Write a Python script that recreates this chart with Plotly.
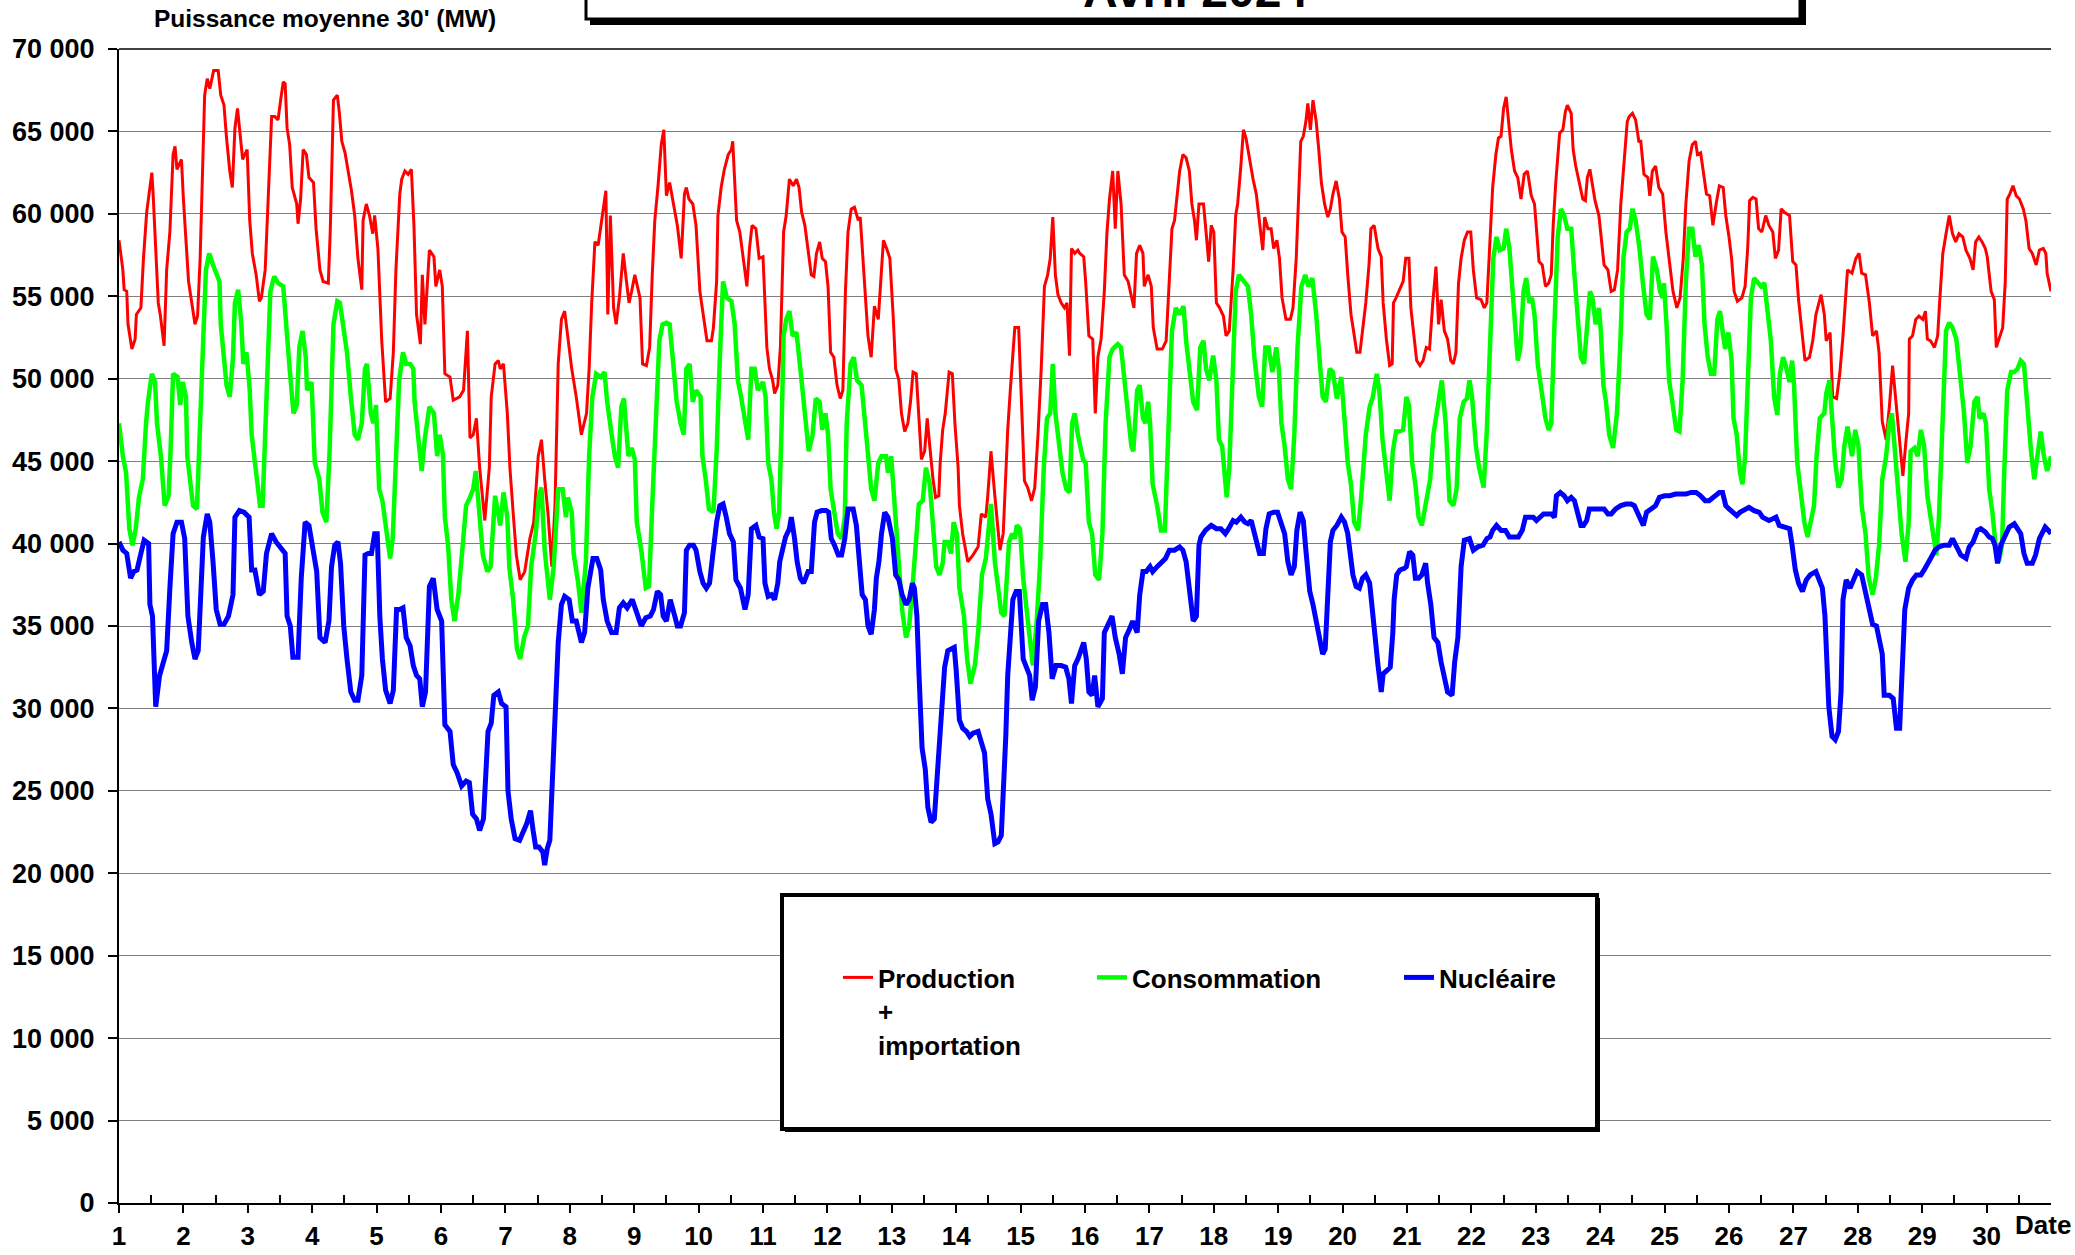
import plotly.graph_objects as go

# Puissances moyennes 30' (jour du mois, MW)
production = [
    (1.00, 58400), (1.06, 56600), (1.08, 55400), (1.12, 55300), (1.14, 53300), (1.20, 51800), (1.25, 52400),
    (1.27, 53900), (1.34, 54300), (1.38, 57300), (1.43, 60100), (1.47, 61200), (1.51, 62500), (1.53, 61200),
    (1.58, 56600), (1.61, 54600), (1.64, 53900), (1.70, 52000), (1.74, 56600), (1.79, 58900), (1.84, 63600),
    (1.87, 64100), (1.90, 62700), (1.97, 63300), (2.00, 60900), (2.08, 55900), (2.18, 53300), (2.22, 53800),
    (2.26, 57300), (2.31, 63900), (2.33, 67200), (2.37, 68200), (2.41, 67600), (2.47, 68700), (2.54, 68700),
    (2.58, 67200), (2.63, 66600), (2.67, 64600), (2.72, 62600), (2.76, 61600), (2.80, 65200), (2.84, 66400),
    (2.88, 64600), (2.92, 63300), (2.99, 63900), (3.03, 59600), (3.07, 57600), (3.13, 56300), (3.18, 54700),
    (3.21, 54900), (3.27, 56600), (3.32, 61200), (3.37, 65900), (3.42, 65900), (3.47, 65700), (3.51, 66900),
    (3.55, 68000), (3.58, 67900), (3.61, 65200), (3.65, 64200), (3.69, 61600), (3.76, 60600), (3.78, 59400),
    (3.82, 60900), (3.86, 63900), (3.91, 63600), (3.95, 62200), (4.02, 61900), (4.06, 59100), (4.12, 56600),
    (4.17, 55900), (4.25, 55800), (4.28, 58900), (4.33, 66900), (4.39, 67200), (4.42, 66200), (4.46, 64400),
    (4.51, 63700), (4.56, 62600), (4.61, 61400), (4.66, 59900), (4.71, 57300), (4.77, 55400), (4.79, 59600),
    (4.84, 60600), (4.89, 59900), (4.94, 58800), (4.97, 59900), (5.02, 57900), (5.08, 52300), (5.14, 48600),
    (5.21, 48800), (5.26, 51600), (5.30, 56600), (5.36, 61200), (5.39, 62100), (5.44, 62600), (5.49, 62400),
    (5.54, 62700), (5.58, 59300), (5.62, 53900), (5.68, 52100), (5.71, 56300), (5.75, 53300), (5.82, 57800),
    (5.89, 57400), (5.92, 55600), (5.98, 56600), (6.02, 55600), (6.06, 50300), (6.14, 50100), (6.19, 48700),
    (6.29, 48900), (6.35, 49300), (6.41, 52900), (6.45, 46400), (6.50, 46600), (6.55, 47600), (6.60, 44600),
    (6.68, 41400), (6.75, 44600), (6.78, 48900), (6.84, 50900), (6.89, 51100), (6.92, 50600), (6.97, 50900),
    (7.03, 47900), (7.07, 44600), (7.12, 41900), (7.17, 39300), (7.23, 37800), (7.30, 38300), (7.38, 40300),
    (7.44, 41300), (7.51, 45300), (7.56, 46300), (7.61, 43900), (7.66, 41900), (7.72, 38600), (7.77, 42300),
    (7.82, 50900), (7.87, 53600), (7.92, 54100), (7.97, 52400), (8.03, 50600), (8.10, 48900), (8.18, 46600),
    (8.26, 47900), (8.30, 50600), (8.34, 54600), (8.39, 58300), (8.44, 58100), (8.49, 59600), (8.56, 61400),
    (8.59, 53900), (8.63, 59900), (8.68, 54300), (8.72, 53300), (8.77, 54900), (8.83, 57600), (8.88, 55900),
    (8.92, 54600), (8.96, 55300), (9.01, 56300), (9.09, 54900), (9.13, 50900), (9.19, 50800), (9.24, 51900),
    (9.28, 56300), (9.32, 59600), (9.37, 61700), (9.42, 64200), (9.46, 65100), (9.50, 61100), (9.55, 61900),
    (9.60, 60900), (9.67, 59300), (9.73, 57300), (9.78, 61200), (9.81, 61600), (9.85, 60900), (9.91, 60600),
    (9.96, 59300), (10.02, 55300), (10.08, 53600), (10.13, 52300), (10.20, 52300), (10.23, 53100), (10.28, 55900),
    (10.30, 59900), (10.35, 61600), (10.40, 62700), (10.46, 63600), (10.51, 63900), (10.53, 64400), (10.59, 59600),
    (10.64, 58900), (10.69, 57300), (10.75, 55600), (10.79, 57900), (10.83, 59300), (10.89, 59100), (10.94, 57300),
    (11.00, 57400), (11.03, 54900), (11.06, 51900), (11.10, 50600), (11.15, 49900), (11.18, 49100), (11.23, 49600),
    (11.27, 51900), (11.32, 58900), (11.36, 59900), (11.41, 62100), (11.47, 61700), (11.52, 62100), (11.56, 61600),
    (11.60, 60100), (11.65, 59300), (11.70, 57900), (11.75, 56300), (11.79, 56200), (11.83, 57600), (11.88, 58300),
    (11.92, 57300), (11.97, 57100), (12.01, 55600), (12.05, 51600), (12.10, 51300), (12.15, 49600), (12.20, 48800),
    (12.24, 49300), (12.28, 55300), (12.32, 58900), (12.37, 60300), (12.42, 60400), (12.48, 59600), (12.51, 59800),
    (12.55, 57300), (12.59, 54600), (12.63, 52600), (12.68, 51300), (12.73, 54400), (12.79, 53600), (12.82, 55300),
    (12.87, 58400), (12.92, 57900), (12.97, 57300), (13.02, 53900), (13.06, 50600), (13.11, 49900), (13.15, 47900),
    (13.20, 46800), (13.25, 47300), (13.29, 48600), (13.33, 50400), (13.38, 50300), (13.43, 47300), (13.46, 45100),
    (13.51, 45600), (13.55, 47600), (13.59, 45900), (13.64, 43900), (13.68, 42800), (13.73, 42900), (13.75, 44800),
    (13.79, 46900), (13.83, 47900), (13.89, 50400), (13.94, 50300), (13.98, 47300), (14.03, 44600), (14.05, 42300),
    (14.10, 40600), (14.18, 38900), (14.26, 39300), (14.34, 39800), (14.39, 41800), (14.46, 41600), (14.49, 42900),
    (14.54, 45600), (14.60, 42900), (14.65, 40600), (14.68, 39600), (14.73, 40600), (14.77, 44300), (14.80, 46900),
    (14.84, 49300), (14.88, 51900), (14.91, 53100), (14.97, 53100), (15.01, 49300), (15.06, 43800), (15.11, 43400),
    (15.17, 42600), (15.22, 43400), (15.27, 46600), (15.32, 50600), (15.37, 55600), (15.42, 56300), (15.46, 57300),
    (15.50, 59800), (15.54, 56300), (15.58, 55100), (15.63, 54600), (15.68, 54300), (15.72, 54600), (15.76, 51400),
    (15.79, 57900), (15.84, 57600), (15.89, 57800), (15.92, 57600), (15.98, 57400), (16.01, 55900), (16.06, 52600),
    (16.12, 52400), (16.16, 47900), (16.20, 51300), (16.25, 52400), (16.30, 55300), (16.34, 58800), (16.38, 60900),
    (16.43, 62600), (16.47, 59100), (16.51, 62600), (16.56, 60600), (16.61, 56300), (16.67, 55900), (16.72, 55100),
    (16.76, 54300), (16.80, 57600), (16.85, 58100), (16.90, 57600), (16.92, 55600), (16.98, 56300), (17.03, 55600),
    (17.06, 53100), (17.12, 51800), (17.20, 51800), (17.26, 52300), (17.30, 55300), (17.35, 59100), (17.39, 59600),
    (17.43, 61200), (17.47, 62600), (17.52, 63600), (17.57, 63400), (17.62, 62600), (17.66, 60600), (17.70, 59600),
    (17.73, 58400), (17.77, 60600), (17.84, 60600), (17.88, 58900), (17.92, 57100), (17.96, 59300), (18.00, 58900),
    (18.04, 54600), (18.09, 54300), (18.15, 53800), (18.19, 52600), (18.24, 52900), (18.30, 56600), (18.34, 59900),
    (18.37, 60600), (18.42, 62900), (18.46, 65100), (18.50, 64600), (18.56, 63100), (18.61, 62100), (18.66, 61200),
    (18.71, 59600), (18.76, 57800), (18.79, 59800), (18.84, 59100), (18.89, 59100), (18.93, 57900), (18.98, 58400),
    (19.02, 57300), (19.06, 54900), (19.12, 53600), (19.19, 53600), (19.23, 54300), (19.28, 57300), (19.32, 61200),
    (19.35, 64400), (19.39, 64700), (19.43, 65600), (19.46, 66700), (19.50, 65100), (19.54, 66900), (19.59, 65600),
    (19.63, 63900), (19.67, 61900), (19.72, 60600), (19.77, 59800), (19.81, 60300), (19.85, 61200), (19.90, 62000),
    (19.95, 60900), (19.99, 58900), (20.04, 58600), (20.08, 56300), (20.13, 53900), (20.17, 52900), (20.22, 51600),
    (20.27, 51600), (20.31, 52900), (20.36, 54600), (20.41, 56900), (20.44, 59100), (20.49, 59300), (20.55, 57900),
    (20.60, 57400), (20.63, 54600), (20.68, 52400), (20.73, 50800), (20.77, 50900), (20.79, 54600), (20.83, 54900),
    (20.88, 55400), (20.94, 55900), (20.98, 57300), (21.03, 57300), (21.06, 54300), (21.11, 52300), (21.15, 51100),
    (21.20, 50800), (21.25, 51100), (21.30, 51900), (21.35, 51800), (21.40, 54600), (21.45, 56800), (21.49, 53300),
    (21.53, 54800), (21.58, 52900), (21.63, 52400), (21.68, 51100), (21.72, 50900), (21.76, 51600), (21.80, 55800),
    (21.84, 57300), (21.89, 58400), (21.94, 58900), (21.99, 58900), (22.03, 56600), (22.08, 54900), (22.15, 54800),
    (22.20, 54300), (22.24, 54600), (22.28, 57600), (22.33, 61600), (22.38, 63600), (22.42, 64600), (22.46, 64700),
    (22.50, 66400), (22.54, 67100), (22.58, 65600), (22.62, 63900), (22.67, 62600), (22.72, 62200), (22.77, 60900),
    (22.82, 62400), (22.87, 62600), (22.93, 61100), (22.98, 60600), (23.01, 59300), (23.05, 57100), (23.10, 56900),
    (23.15, 55600), (23.20, 55800), (23.24, 56300), (23.27, 59300), (23.31, 61900), (23.37, 64900), (23.42, 65100),
    (23.46, 66200), (23.49, 66600), (23.55, 66100), (23.58, 63900), (23.62, 62900), (23.68, 61900), (23.73, 60900),
    (23.77, 60800), (23.80, 62200), (23.84, 62700), (23.88, 61600), (23.92, 60800), (23.98, 59900), (24.01, 58900),
    (24.06, 56900), (24.12, 56600), (24.17, 55300), (24.22, 55400), (24.27, 56600), (24.32, 60600), (24.37, 63400),
    (24.42, 65600), (24.45, 65900), (24.50, 66100), (24.55, 65700), (24.60, 64400), (24.63, 64400), (24.68, 62400),
    (24.74, 62200), (24.77, 61100), (24.81, 62600), (24.86, 62900), (24.91, 61600), (24.97, 61200), (25.02, 58900),
    (25.08, 56900), (25.13, 55300), (25.19, 54300), (25.24, 54900), (25.29, 57300), (25.33, 60600), (25.38, 63200),
    (25.43, 64200), (25.48, 64400), (25.51, 63600), (25.56, 63700), (25.60, 62600), (25.65, 61200), (25.70, 61100),
    (25.75, 59300), (25.80, 60600), (25.85, 61700), (25.91, 61600), (25.95, 59900), (26.00, 58600), (26.04, 57300),
    (26.08, 55300), (26.13, 54700), (26.20, 54900), (26.25, 55600), (26.29, 57900), (26.32, 60800), (26.37, 61000),
    (26.42, 60900), (26.46, 59100), (26.51, 58900), (26.57, 59900), (26.62, 59300), (26.68, 58900), (26.72, 57300),
    (26.77, 57800), (26.81, 60300), (26.86, 60100), (26.94, 59900), (26.99, 57100), (27.04, 56900), (27.08, 54800),
    (27.13, 52900), (27.18, 51100), (27.25, 51300), (27.30, 52300), (27.35, 53900), (27.43, 55100), (27.48, 53900),
    (27.51, 52300), (27.57, 52800), (27.61, 48900), (27.67, 48800), (27.72, 50300), (27.77, 52600), (27.84, 56600),
    (27.91, 56400), (27.97, 57300), (28.02, 57600), (28.06, 56400), (28.12, 56300), (28.18, 54600), (28.23, 52600),
    (28.29, 52900), (28.33, 51600), (28.38, 47400), (28.44, 46300), (28.49, 48300), (28.54, 50800), (28.60, 48300),
    (28.65, 46300), (28.70, 44100), (28.75, 46300), (28.79, 47900), (28.80, 52400), (28.85, 52600), (28.90, 53600),
    (28.95, 53800), (29.01, 53600), (29.05, 54100), (29.08, 52400), (29.13, 52300), (29.19, 51900), (29.24, 52600),
    (29.27, 54600), (29.32, 57600), (29.37, 58800), (29.42, 59900), (29.47, 58800), (29.52, 58300), (29.57, 58800),
    (29.63, 58600), (29.68, 57800), (29.74, 57300), (29.79, 56600), (29.83, 58300), (29.88, 58600), (29.93, 58300),
    (29.98, 57900), (30.01, 57400), (30.07, 55300), (30.12, 54800), (30.15, 51900), (30.19, 52400), (30.25, 53100),
    (30.29, 55900), (30.32, 60900), (30.36, 61200), (30.41, 61700), (30.46, 61100), (30.51, 60900), (30.57, 60300),
    (30.61, 59600), (30.66, 57900), (30.71, 57600), (30.77, 56900), (30.82, 57800), (30.88, 57900), (30.92, 57600),
    (30.94, 56400), (31.00, 55300),
]

consommation = [
    (1.00, 47300), (1.06, 45300), (1.11, 44300), (1.16, 40900), (1.21, 39900), (1.26, 40900), (1.31, 42800),
    (1.37, 43900), (1.42, 47300), (1.45, 48600), (1.51, 50300), (1.56, 49800), (1.59, 47300), (1.65, 45300),
    (1.71, 42300), (1.77, 42900), (1.80, 45600), (1.84, 50300), (1.91, 50100), (1.95, 48400), (1.99, 49800),
    (2.04, 48900), (2.06, 45300), (2.11, 43900), (2.15, 42300), (2.21, 42100), (2.26, 46600), (2.31, 52600),
    (2.35, 56600), (2.40, 57600), (2.46, 56900), (2.52, 56200), (2.56, 55900), (2.58, 53300), (2.63, 51300),
    (2.67, 49600), (2.72, 48900), (2.77, 51300), (2.80, 54600), (2.85, 55400), (2.90, 53300), (2.93, 50900),
    (2.98, 51600), (3.03, 49300), (3.06, 46600), (3.13, 44300), (3.19, 42300), (3.23, 42300), (3.27, 46600),
    (3.30, 50600), (3.35, 55300), (3.41, 56200), (3.47, 55800), (3.55, 55600), (3.59, 53300), (3.65, 50600),
    (3.71, 47900), (3.76, 48400), (3.80, 51900), (3.85, 52900), (3.90, 51300), (3.92, 49300), (3.99, 49800),
    (4.04, 44900), (4.11, 43900), (4.16, 41900), (4.22, 41300), (4.27, 45600), (4.33, 53300), (4.39, 54700),
    (4.43, 54600), (4.48, 53300), (4.54, 51600), (4.60, 48900), (4.66, 46600), (4.71, 46300), (4.77, 47300),
    (4.82, 50600), (4.85, 50900), (4.91, 47900), (4.95, 47300), (4.99, 48400), (5.04, 43300), (5.09, 42600),
    (5.14, 40900), (5.21, 39100), (5.25, 40300), (5.30, 45300), (5.35, 49900), (5.41, 51600), (5.46, 50900),
    (5.52, 50900), (5.57, 50600), (5.59, 48600), (5.65, 46300), (5.70, 44400), (5.75, 46400), (5.82, 48300),
    (5.89, 47900), (5.94, 45300), (5.98, 46600), (6.03, 45400), (6.06, 41600), (6.11, 39900), (6.16, 36600),
    (6.21, 35300), (6.27, 36900), (6.32, 38900), (6.39, 42300), (6.45, 42800), (6.50, 43300), (6.54, 44400),
    (6.59, 41900), (6.65, 39300), (6.72, 38300), (6.77, 38600), (6.84, 42900), (6.89, 41900), (6.92, 41100),
    (6.97, 43100), (7.03, 41600), (7.06, 38600), (7.12, 36600), (7.18, 33600), (7.23, 33000), (7.29, 34300),
    (7.35, 35000), (7.40, 38600), (7.47, 40600), (7.52, 42900), (7.56, 43400), (7.61, 39600), (7.69, 36600),
    (7.75, 38600), (7.82, 43300), (7.89, 43300), (7.94, 41600), (7.97, 42800), (8.03, 41900), (8.06, 39400),
    (8.13, 37600), (8.18, 35800), (8.25, 38900), (8.30, 45300), (8.35, 48900), (8.41, 50300), (8.48, 50100),
    (8.54, 50400), (8.58, 48600), (8.65, 46600), (8.70, 45300), (8.75, 44600), (8.80, 48300), (8.84, 48800),
    (8.91, 45300), (8.96, 45800), (9.01, 45100), (9.04, 41300), (9.11, 39600), (9.18, 37300), (9.23, 37400),
    (9.28, 42300), (9.34, 48600), (9.39, 52300), (9.44, 53300), (9.50, 53400), (9.55, 53300), (9.60, 51300),
    (9.66, 48600), (9.72, 47300), (9.77, 46600), (9.81, 50600), (9.86, 50900), (9.91, 48600), (9.96, 49300),
    (10.03, 48900), (10.06, 45300), (10.11, 43900), (10.16, 42100), (10.23, 41900), (10.28, 45600), (10.33, 51300),
    (10.38, 55900), (10.44, 54900), (10.51, 54700), (10.56, 53300), (10.61, 49900), (10.66, 48900), (10.72, 47300),
    (10.77, 46300), (10.82, 50600), (10.87, 50600), (10.92, 49300), (11.00, 49800), (11.04, 48900), (11.08, 44900),
    (11.13, 43900), (11.17, 41900), (11.21, 40900), (11.25, 41900), (11.29, 47300), (11.32, 52600), (11.36, 53600),
    (11.41, 54100), (11.46, 52600), (11.52, 52800), (11.58, 50600), (11.65, 47600), (11.71, 45600), (11.77, 46600),
    (11.82, 48800), (11.88, 48600), (11.92, 46900), (11.97, 47900), (12.01, 46600), (12.05, 43300), (12.11, 41900),
    (12.16, 40600), (12.22, 40300), (12.27, 41600), (12.30, 47300), (12.36, 50900), (12.41, 51300), (12.46, 49900),
    (12.53, 49600), (12.58, 47900), (12.61, 46300), (12.68, 43300), (12.73, 42600), (12.79, 44900), (12.84, 45300),
    (12.91, 45300), (12.94, 44300), (12.99, 45300), (13.05, 42300), (13.11, 38600), (13.16, 36000), (13.22, 34300),
    (13.27, 35000), (13.32, 37300), (13.37, 40300), (13.42, 42400), (13.48, 42600), (13.53, 44600), (13.59, 43600),
    (13.63, 41300), (13.69, 38600), (13.74, 38100), (13.79, 38800), (13.82, 40100), (13.87, 40100), (13.92, 39400),
    (13.96, 41300), (14.01, 40600), (14.05, 37300), (14.12, 35600), (14.17, 33000), (14.22, 31500), (14.29, 32600),
    (14.34, 34600), (14.40, 38100), (14.46, 39100), (14.51, 41300), (14.54, 42400), (14.60, 38900), (14.65, 37300),
    (14.70, 35800), (14.75, 35600), (14.79, 37900), (14.82, 40100), (14.87, 40600), (14.91, 40300), (14.94, 41100),
    (14.99, 40900), (15.04, 37900), (15.09, 36300), (15.14, 34600), (15.19, 32600), (15.25, 35300), (15.30, 38600),
    (15.36, 44600), (15.41, 47600), (15.46, 47900), (15.50, 50900), (15.54, 47900), (15.59, 46300), (15.65, 44300),
    (15.71, 43300), (15.76, 43100), (15.80, 47300), (15.84, 47900), (15.89, 46600), (15.97, 45100), (16.01, 44900),
    (16.06, 41300), (16.11, 40600), (16.16, 38100), (16.22, 37800), (16.27, 40600), (16.32, 47300), (16.38, 51300),
    (16.43, 51800), (16.51, 52100), (16.56, 51900), (16.61, 49900), (16.67, 47300), (16.72, 45900), (16.75, 45600),
    (16.81, 49300), (16.85, 49600), (16.90, 47600), (16.94, 47300), (16.98, 48600), (17.01, 47300), (17.05, 43600),
    (17.12, 42300), (17.18, 40800), (17.24, 40800), (17.27, 43900), (17.30, 47300), (17.35, 52900), (17.41, 54300),
    (17.47, 53900), (17.53, 54400), (17.57, 52300), (17.62, 50600), (17.68, 48600), (17.74, 48100), (17.79, 51900),
    (17.84, 52300), (17.88, 50600), (17.93, 49900), (17.99, 51400), (18.04, 49900), (18.08, 46300), (18.13, 45900),
    (18.17, 44300), (18.20, 42800), (18.24, 44600), (18.28, 49300), (18.34, 55300), (18.39, 56300), (18.46, 55900),
    (18.53, 55600), (18.58, 53900), (18.63, 51300), (18.70, 48900), (18.75, 48300), (18.80, 51900), (18.85, 51900),
    (18.91, 50400), (18.97, 51900), (19.01, 50600), (19.05, 47300), (19.10, 45900), (19.15, 43900), (19.20, 43300),
    (19.25, 46600), (19.30, 51900), (19.36, 55600), (19.42, 56300), (19.47, 55600), (19.53, 56100), (19.59, 53900),
    (19.64, 51300), (19.69, 48900), (19.74, 48600), (19.80, 50600), (19.85, 50400), (19.91, 48800), (19.98, 50100),
    (20.03, 47300), (20.08, 44900), (20.13, 43600), (20.18, 41300), (20.24, 40800), (20.29, 42900), (20.36, 46600),
    (20.42, 48300), (20.47, 48900), (20.53, 50300), (20.57, 49300), (20.62, 46300), (20.68, 44300), (20.73, 42600),
    (20.78, 45600), (20.83, 46800), (20.88, 46800), (20.94, 46900), (20.99, 48900), (21.03, 48400), (21.08, 44900),
    (21.13, 43600), (21.18, 41600), (21.23, 41100), (21.30, 42600), (21.36, 43900), (21.41, 46600), (21.46, 47900),
    (21.51, 49300), (21.54, 49900), (21.60, 47300), (21.66, 42600), (21.72, 42300), (21.77, 43300), (21.82, 47600),
    (21.88, 48600), (21.93, 48800), (21.97, 49900), (22.01, 48900), (22.07, 45900), (22.12, 44600), (22.19, 43400),
    (22.24, 46900), (22.29, 51900), (22.34, 57300), (22.39, 58600), (22.44, 57800), (22.50, 57900), (22.54, 59100),
    (22.59, 57900), (22.64, 54900), (22.68, 52600), (22.72, 51100), (22.76, 51900), (22.81, 55300), (22.85, 56100),
    (22.90, 54600), (22.94, 54900), (22.98, 53900), (23.03, 50900), (23.08, 49600), (23.15, 47600), (23.20, 46900),
    (23.24, 47300), (23.29, 53300), (23.34, 58600), (23.39, 60300), (23.44, 59900), (23.49, 59100), (23.55, 59100),
    (23.60, 56300), (23.65, 53600), (23.70, 51300), (23.75, 50900), (23.81, 54300), (23.84, 55300), (23.88, 54900),
    (23.93, 53300), (23.98, 54300), (24.01, 52900), (24.05, 49600), (24.09, 48600), (24.14, 46600), (24.20, 45800),
    (24.26, 47900), (24.31, 51900), (24.36, 57300), (24.41, 58900), (24.46, 59100), (24.50, 60300), (24.55, 59600),
    (24.61, 57900), (24.66, 55900), (24.72, 53900), (24.77, 53600), (24.82, 57400), (24.88, 56600), (24.93, 55300),
    (24.97, 54900), (24.99, 55800), (25.03, 53300), (25.07, 49900), (25.12, 48600), (25.18, 46900), (25.23, 46800),
    (25.28, 49900), (25.33, 55900), (25.38, 59100), (25.43, 59100), (25.48, 57400), (25.53, 58100), (25.58, 56900),
    (25.62, 53300), (25.67, 51300), (25.72, 50300), (25.77, 50300), (25.82, 53600), (25.86, 54100), (25.90, 52900),
    (25.94, 51800), (25.99, 52800), (26.04, 51100), (26.07, 47600), (26.12, 46600), (26.17, 44300), (26.21, 43600),
    (26.25, 45300), (26.30, 51900), (26.34, 54900), (26.39, 56100), (26.44, 55900), (26.50, 55600), (26.55, 55800),
    (26.60, 53900), (26.65, 52300), (26.70, 48900), (26.75, 47800), (26.79, 50300), (26.84, 51300), (26.88, 50800),
    (26.94, 49800), (26.98, 51100), (27.01, 49600), (27.06, 44900), (27.12, 42600), (27.17, 41300), (27.22, 40400),
    (27.27, 41300), (27.32, 42300), (27.36, 45300), (27.41, 47600), (27.48, 47900), (27.51, 49100), (27.56, 49900),
    (27.60, 47300), (27.65, 44900), (27.70, 43400), (27.75, 43900), (27.79, 45900), (27.84, 47100), (27.91, 45300),
    (27.96, 46900), (28.01, 45900), (28.06, 42300), (28.12, 40600), (28.17, 37900), (28.23, 36900), (28.28, 37900),
    (28.33, 39900), (28.38, 43900), (28.44, 45300), (28.49, 47300), (28.53, 47900), (28.58, 45600), (28.63, 43300),
    (28.68, 40600), (28.74, 38900), (28.79, 41300), (28.82, 45600), (28.88, 45800), (28.93, 45300), (28.98, 46900),
    (29.03, 45900), (29.08, 42900), (29.13, 41600), (29.19, 39800), (29.22, 39300), (29.26, 41600), (29.32, 47300),
    (29.37, 52900), (29.42, 53400), (29.47, 53100), (29.53, 52400), (29.58, 50600), (29.65, 47900), (29.70, 44900),
    (29.75, 45900), (29.81, 48600), (29.86, 48900), (29.89, 47600), (29.95, 47900), (29.99, 47300), (30.04, 43300),
    (30.09, 41900), (30.14, 39900), (30.19, 38900), (30.24, 39900), (30.27, 43900), (30.32, 49300), (30.38, 50400),
    (30.43, 50400), (30.48, 50600), (30.53, 51100), (30.58, 50900), (30.63, 48300), (30.69, 45600), (30.74, 43900),
    (30.79, 45300), (30.84, 46800), (30.89, 45300), (30.94, 44400), (31.00, 45300),
]

nucleaire = [
    (1.00, 40100), (1.06, 39600), (1.12, 39400), (1.18, 37900), (1.23, 38300), (1.28, 38400), (1.34, 39400),
    (1.39, 40200), (1.46, 40000), (1.48, 36300), (1.52, 35600), (1.57, 30100), (1.63, 32000), (1.68, 32600),
    (1.74, 33500), (1.79, 37300), (1.84, 40600), (1.90, 41300), (1.97, 41300), (2.02, 40300), (2.07, 35600),
    (2.13, 34000), (2.18, 33000), (2.23, 33500), (2.27, 37300), (2.31, 40400), (2.37, 41800), (2.41, 41300),
    (2.46, 38900), (2.51, 36000), (2.57, 35100), (2.63, 35100), (2.70, 35600), (2.77, 36900), (2.80, 41600),
    (2.87, 42000), (2.94, 41900), (3.02, 41600), (3.06, 38400), (3.11, 38400), (3.18, 36900), (3.24, 37100),
    (3.29, 39400), (3.37, 40600), (3.44, 40100), (3.50, 39800), (3.58, 39400), (3.61, 35600), (3.66, 35000),
    (3.70, 33100), (3.78, 33100), (3.83, 37900), (3.89, 41300), (3.95, 41100), (4.02, 39400), (4.07, 38300),
    (4.12, 34300), (4.20, 34000), (4.26, 35300), (4.30, 38600), (4.35, 39900), (4.40, 40100), (4.44, 38800),
    (4.49, 35000), (4.54, 33000), (4.60, 31000), (4.66, 30500), (4.71, 30500), (4.77, 32000), (4.82, 39300),
    (4.87, 39400), (4.92, 39400), (4.97, 40600), (5.01, 40600), (5.05, 35600), (5.09, 33000), (5.14, 31100),
    (5.21, 30300), (5.26, 31100), (5.31, 36000), (5.36, 36000), (5.41, 36100), (5.46, 34300), (5.52, 33800),
    (5.57, 32600), (5.62, 32000), (5.67, 31800), (5.71, 30100), (5.76, 31000), (5.82, 37400), (5.88, 37900),
    (5.94, 36000), (6.01, 35300), (6.06, 29000), (6.14, 28600), (6.19, 26600), (6.25, 26100), (6.32, 25300),
    (6.39, 25600), (6.44, 25500), (6.49, 23600), (6.55, 23300), (6.60, 22600), (6.66, 23300), (6.73, 28600),
    (6.78, 29100), (6.82, 30800), (6.89, 31000), (6.94, 30300), (7.01, 30100), (7.04, 25000), (7.09, 23300),
    (7.15, 22100), (7.22, 22000), (7.33, 23000), (7.39, 23800), (7.43, 22600), (7.47, 21600), (7.52, 21600),
    (7.58, 21300), (7.61, 20500), (7.65, 21500), (7.69, 22000), (7.73, 26000), (7.78, 30000), (7.82, 34000),
    (7.87, 36300), (7.92, 36800), (7.99, 36600), (8.04, 35300), (8.10, 35300), (8.14, 34500), (8.18, 34000),
    (8.23, 34600), (8.28, 37300), (8.36, 39100), (8.42, 39100), (8.48, 38400), (8.52, 36600), (8.58, 35300),
    (8.65, 34600), (8.72, 34600), (8.77, 36100), (8.83, 36400), (8.89, 36100), (8.97, 36600), (9.03, 36000),
    (9.11, 35000), (9.18, 35500), (9.25, 35600), (9.30, 36000), (9.36, 37100), (9.41, 36900), (9.45, 35600),
    (9.50, 35300), (9.56, 36600), (9.63, 35600), (9.67, 35000), (9.72, 35000), (9.78, 35800), (9.81, 39600),
    (9.86, 39900), (9.92, 39900), (9.96, 39600), (10.02, 38300), (10.07, 37600), (10.12, 37300), (10.17, 37600),
    (10.22, 39300), (10.28, 41300), (10.33, 42300), (10.38, 42400), (10.43, 41600), (10.48, 40600), (10.54, 40100),
    (10.58, 37800), (10.65, 37300), (10.72, 36000), (10.77, 36900), (10.82, 40900), (10.89, 41100), (10.94, 40400),
    (11.00, 40300), (11.03, 37600), (11.08, 36800), (11.13, 36900), (11.18, 36600), (11.23, 37600), (11.26, 38900),
    (11.30, 39600), (11.35, 40400), (11.41, 40900), (11.44, 41600), (11.49, 40300), (11.53, 38900), (11.58, 37900),
    (11.63, 37600), (11.70, 38300), (11.75, 38300), (11.80, 41300), (11.84, 41900), (11.91, 42000), (11.98, 42000),
    (12.02, 41900), (12.06, 40300), (12.11, 39900), (12.17, 39300), (12.22, 39300), (12.27, 40300), (12.32, 42100),
    (12.40, 42100), (12.45, 41100), (12.50, 38600), (12.54, 36900), (12.59, 36600), (12.63, 35000), (12.68, 34500),
    (12.73, 36000), (12.76, 37900), (12.80, 38900), (12.84, 40600), (12.89, 41900), (12.94, 41600), (13.01, 40300),
    (13.06, 38100), (13.11, 37800), (13.16, 36900), (13.22, 36300), (13.27, 36600), (13.32, 37600), (13.35, 37300),
    (13.39, 35600), (13.42, 32300), (13.47, 27600), (13.52, 26300), (13.56, 24000), (13.61, 23100), (13.66, 23300),
    (13.70, 25600), (13.75, 29000), (13.79, 30600), (13.82, 32500), (13.87, 33500), (13.92, 33600), (13.97, 33700),
    (14.00, 32300), (14.05, 29300), (14.10, 28800), (14.16, 28600), (14.21, 28300), (14.26, 28500), (14.34, 28600),
    (14.39, 28000), (14.44, 27300), (14.49, 24500), (14.54, 23600), (14.60, 21800), (14.65, 21900), (14.70, 22300),
    (14.73, 24500), (14.77, 28300), (14.80, 32000), (14.84, 34600), (14.88, 36600), (14.93, 37100), (14.98, 37100),
    (15.04, 33000), (15.09, 32500), (15.14, 32000), (15.18, 30500), (15.23, 31300), (15.28, 35300), (15.34, 36300),
    (15.39, 36300), (15.44, 34600), (15.49, 31800), (15.55, 32600), (15.63, 32600), (15.70, 32500), (15.75, 31800),
    (15.79, 30300), (15.84, 32600), (15.89, 33000), (15.98, 34000), (16.02, 33000), (16.06, 31000), (16.11, 30800),
    (16.15, 32000), (16.20, 30100), (16.27, 30600), (16.30, 34600), (16.36, 35100), (16.42, 35600), (16.47, 34300),
    (16.53, 33300), (16.58, 32100), (16.63, 34300), (16.69, 34800), (16.74, 35300), (16.81, 34600), (16.85, 36900),
    (16.90, 38300), (16.95, 38300), (17.01, 38600), (17.05, 38300), (17.12, 38600), (17.18, 38800), (17.25, 39100),
    (17.31, 39600), (17.39, 39600), (17.47, 39800), (17.52, 39600), (17.57, 38900), (17.62, 37300), (17.68, 35300),
    (17.73, 35600), (17.77, 39900), (17.80, 40400), (17.87, 40800), (17.96, 41100), (18.04, 40900), (18.11, 40900),
    (18.18, 40600), (18.23, 40900), (18.30, 41400), (18.35, 41300), (18.42, 41600), (18.48, 41300), (18.53, 41200),
    (18.58, 41400), (18.63, 40600), (18.67, 39900), (18.71, 39400), (18.77, 39400), (18.81, 40900), (18.86, 41800),
    (18.93, 41900), (18.99, 41900), (19.05, 41300), (19.10, 40600), (19.15, 38900), (19.20, 38100), (19.25, 38600),
    (19.29, 40800), (19.34, 41900), (19.39, 41400), (19.43, 39600), (19.49, 37100), (19.54, 36300), (19.59, 35300),
    (19.64, 34000), (19.69, 33300), (19.73, 33600), (19.77, 37300), (19.81, 40100), (19.85, 40800), (19.91, 41100),
    (19.98, 41600), (20.03, 41300), (20.08, 40600), (20.12, 39300), (20.16, 38100), (20.21, 37400), (20.26, 37300),
    (20.31, 37900), (20.36, 38100), (20.42, 37600), (20.46, 36000), (20.49, 34300), (20.55, 32600), (20.60, 31000),
    (20.63, 32100), (20.69, 32300), (20.74, 32500), (20.78, 34600), (20.80, 36600), (20.84, 38100), (20.89, 38400),
    (20.96, 38500), (20.99, 38600), (21.04, 39500), (21.09, 39300), (21.13, 37900), (21.18, 37900), (21.23, 38100),
    (21.29, 38800), (21.32, 37600), (21.37, 36300), (21.42, 34300), (21.48, 34000), (21.53, 32800), (21.58, 32000),
    (21.63, 31000), (21.70, 30800), (21.74, 32800), (21.79, 34300), (21.84, 38600), (21.89, 40200), (21.97, 40300),
    (22.03, 39600), (22.10, 39800), (22.18, 39900), (22.24, 40300), (22.29, 40400), (22.33, 40800), (22.39, 41100),
    (22.46, 40800), (22.53, 40800), (22.59, 40400), (22.67, 40400), (22.73, 40400), (22.79, 40800), (22.84, 41600),
    (22.90, 41600), (22.96, 41600), (23.01, 41400), (23.07, 41600), (23.12, 41800), (23.18, 41800), (23.24, 41800),
    (23.29, 41600), (23.32, 42900), (23.38, 43100), (23.44, 42900), (23.49, 42600), (23.55, 42800), (23.60, 42600),
    (23.65, 41900), (23.70, 41100), (23.74, 41100), (23.79, 41400), (23.83, 42100), (23.91, 42100), (23.99, 42100),
    (24.06, 42100), (24.12, 41800), (24.17, 41800), (24.24, 42100), (24.32, 42300), (24.40, 42400), (24.48, 42400),
    (24.53, 42300), (24.58, 41800), (24.63, 41300), (24.67, 41100), (24.72, 41900), (24.79, 42100), (24.86, 42300),
    (24.92, 42800), (25.00, 42900), (25.08, 42900), (25.17, 43000), (25.25, 43000), (25.33, 43000), (25.41, 43100),
    (25.49, 43100), (25.56, 42900), (25.63, 42600), (25.69, 42600), (25.75, 42800), (25.80, 43000), (25.85, 43100),
    (25.90, 43100), (25.95, 42300), (26.00, 42100), (26.07, 41900), (26.12, 41700), (26.17, 41900), (26.22, 42000),
    (26.31, 42200), (26.39, 42000), (26.47, 41900), (26.52, 41600), (26.57, 41500), (26.62, 41400), (26.68, 41500),
    (26.73, 41600), (26.78, 41100), (26.84, 41000), (26.94, 40900), (26.98, 39900), (27.03, 38400), (27.08, 37600),
    (27.14, 37100), (27.20, 37800), (27.26, 38100), (27.35, 38300), (27.40, 37800), (27.45, 37300), (27.49, 35600),
    (27.51, 33600), (27.55, 30100), (27.60, 28300), (27.65, 28100), (27.70, 28600), (27.74, 31000), (27.77, 36600),
    (27.82, 37800), (27.88, 37300), (27.94, 37800), (27.99, 38300), (28.06, 38100), (28.11, 37300), (28.17, 36300),
    (28.23, 35100), (28.29, 35000), (28.33, 34300), (28.38, 33300), (28.41, 30800), (28.49, 30800), (28.55, 30600),
    (28.60, 28800), (28.65, 28800), (28.69, 32300), (28.73, 36000), (28.79, 37300), (28.85, 37800), (28.91, 38100),
    (28.98, 38100), (29.03, 38400), (29.08, 38700), (29.13, 39100), (29.20, 39600), (29.26, 39800), (29.34, 39900),
    (29.42, 39900), (29.47, 40300), (29.53, 39800), (29.60, 39300), (29.68, 39100), (29.73, 39800), (29.79, 40100),
    (29.86, 40800), (29.91, 40900), (29.98, 40700), (30.04, 40400), (30.09, 40300), (30.13, 39900), (30.17, 38800),
    (30.22, 39900), (30.27, 40400), (30.35, 41000), (30.43, 41200), (30.48, 40900), (30.53, 40600), (30.58, 39400),
    (30.63, 38800), (30.71, 38800), (30.76, 39300), (30.82, 40300), (30.87, 40800), (30.91, 41000), (30.96, 40800),
    (31.00, 40600),
]

jours = list(range(1, 31))
titre = "Avril 2024"

FONT = "Arial, Liberation Sans, sans-serif"

fig = go.Figure()

series = [
    ("Production<br>+<br>importation", production, "#FF0000", 3, "legend"),
    ("Consommation", consommation, "#00FF00", 4.5, "legend2"),
    ("Nucléaire", nucleaire, "#0000FF", 5, "legend3"),
]
for nom, donnees, couleur, epaisseur, leg in series:
    x, y = zip(*donnees)
    fig.add_trace(go.Scatter(
        x=list(x), y=list(y), mode="lines", name=nom,
        line=dict(color=couleur, width=epaisseur),
        legend=leg,
    ))

W, H = 2075, 1255
L, R, T, B = 119, 24, 49, 52
PW, PH = W - L - R, H - T - B


def px(xp):
    return (xp - L) / PW


def py(yp):
    return (H - B - yp) / PH


leg_font = dict(family=FONT, size=26, color="black", weight="bold")


def legende(xt):
    return dict(x=px(xt - 39), y=py(954), xanchor="left", yanchor="top",
                orientation="v", bgcolor="rgba(0,0,0,0)", borderwidth=0,
                font=leg_font, valign="top")


fig.update_layout(
    width=W, height=H,
    margin=dict(l=L, r=R, t=T, b=B, pad=0),
    paper_bgcolor="white", plot_bgcolor="white",
    separators=", ",
    font=dict(family=FONT, color="black"),
    showlegend=True,
    legend=legende(877),
    legend2=legende(1131),
    legend3=legende(1438),
    xaxis=dict(
        range=[1, 31], tickvals=jours, ticktext=[str(j) for j in jours],
        automargin=False,
        showgrid=False, zeroline=False,
        showline=True, linecolor="black", linewidth=2,
        ticks="outside", ticklen=8, tickwidth=1.5, tickcolor="black",
        ticklabelstandoff=1,
        tickfont=dict(family=FONT, size=26, color="black", weight="bold"),
        minor=dict(tickvals=[j + 0.5 for j in jours], ticks="inside",
                   ticklen=8, tickwidth=1.5, tickcolor="black", showgrid=False),
    ),
    yaxis=dict(
        range=[0, 70000], dtick=5000, tickformat=",d",
        automargin=False,
        showgrid=True, gridcolor="#808080", gridwidth=1.3,
        zeroline=False,
        showline=True, linecolor="black", linewidth=2,
        ticks="outside", ticklen=9, tickwidth=1.5, tickcolor="black",
        ticklabelstandoff=8,
        tickfont=dict(family=FONT, size=27, color="black", weight="bold"),
    ),
    shapes=[
        # bordure supérieure
        dict(type="line", xref="paper", yref="paper", x0=0, x1=1, y0=1, y1=1,
             line=dict(color="black", width=1.5)),
        # cadre du titre (ombre + cadre)
        dict(type="rect", xref="paper", yref="paper", x0=px(590), x1=px(1806),
             y0=py(25), y1=py(-20), fillcolor="black", line=dict(width=0)),
        dict(type="rect", xref="paper", yref="paper", x0=px(586), x1=px(1800),
             y0=py(19), y1=py(-20), fillcolor="white",
             line=dict(color="black", width=3)),
        # cadre de la légende
        dict(type="rect", xref="paper", yref="paper", x0=px(785), x1=px(1600),
             y0=py(1132), y1=py(898), fillcolor="black", line=dict(width=0)),
        dict(type="rect", xref="paper", yref="paper", x0=px(782), x1=px(1597),
             y0=py(1129), y1=py(895), fillcolor="white",
             line=dict(color="black", width=4)),
    ],
    annotations=[
        dict(text=titre, xref="paper", yref="paper", x=px(1195), y=py(19),
             xanchor="center", yanchor="bottom", showarrow=False,
             font=dict(family=FONT, size=48, color="black", weight="bold")),
        dict(text="Puissance moyenne 30' (MW)", xref="paper", yref="paper",
             x=px(152), y=py(19), xanchor="left", yanchor="middle", showarrow=False,
             font=dict(family=FONT, size=24.5, color="black", weight="bold")),
        dict(text="Date", xref="paper", yref="paper", x=px(2043), y=py(1225),
             xanchor="center", yanchor="middle", showarrow=False,
             font=dict(family=FONT, size=26, color="black", weight="bold")),
    ],
)

fig.write_html("out.html", config={"displayModeBar": False},
               post_script="document.body.style.margin='0px';")
